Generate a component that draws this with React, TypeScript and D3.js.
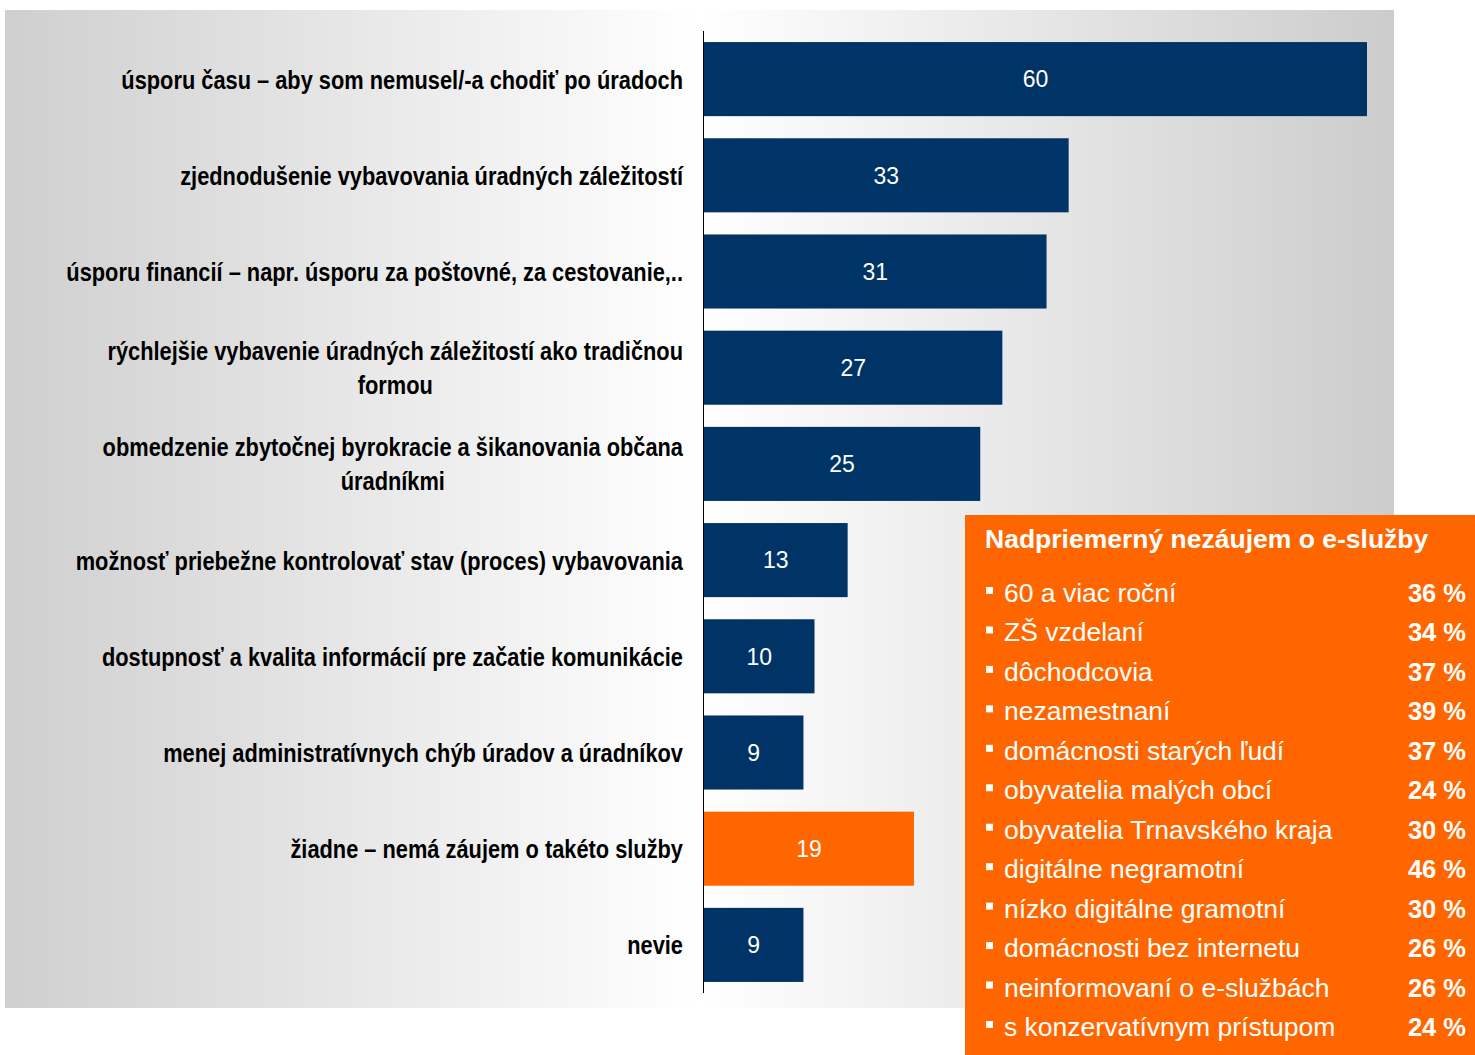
import React, { useEffect, useRef } from "react";
import * as d3 from "d3";

const categories: string[][] = [
  ["úsporu času – aby som nemusel/-a chodiť po úradoch"],
  ["zjednodušenie vybavovania úradných záležitostí"],
  ["úsporu financií – napr. úsporu za poštovné, za cestovanie,.."],
  ["rýchlejšie vybavenie úradných záležitostí ako tradičnou", "formou"],
  ["obmedzenie zbytočnej byrokracie a šikanovania občana", "úradníkmi"],
  ["možnosť priebežne kontrolovať stav (proces) vybavovania"],
  ["dostupnosť a kvalita informácií pre začatie komunikácie"],
  ["menej administratívnych chýb úradov a úradníkov"],
  ["žiadne – nemá záujem o takéto služby"],
  ["nevie"],
];
const values: number[] = [60, 33, 31, 27, 25, 13, 10, 9, 19, 9];
const highlighted: boolean[] = [false, false, false, false, false, false, false, false, true, false];

const boxTitle = "Nadpriemerný nezáujem o e-služby";
const boxItems: string[] = [
  "60 a viac roční",
  "ZŠ vzdelaní",
  "dôchodcovia",
  "nezamestnaní",
  "domácnosti starých ľudí",
  "obyvatelia malých obcí",
  "obyvatelia Trnavského kraja",
  "digitálne negramotní",
  "nízko digitálne gramotní",
  "domácnosti bez internetu",
  "neinformovaní o e-službách",
  "s konzervatívnym prístupom",
];
const boxValues: number[] = [36, 34, 37, 39, 37, 24, 30, 46, 30, 26, 26, 24];

const W = 1475;
const H = 1055;
const NAVY = "#003366";
const ORANGE = "#ff6600";
const SANS = "'Liberation Sans', Arial, Helvetica, sans-serif";

export default function App() {
  const ref = useRef<SVGSVGElement | null>(null);

  useEffect(() => {
    const svg = d3.select(ref.current);
    svg.selectAll("*").remove();

    const defs = svg.append("defs");
    const grad = defs
      .append("linearGradient")
      .attr("id", "bgGrad")
      .attr("x1", "0%")
      .attr("x2", "100%")
      .attr("y1", "0%")
      .attr("y2", "0%");
    grad.append("stop").attr("offset", "0%").attr("stop-color", "#cfcfcf");
    grad.append("stop").attr("offset", "50%").attr("stop-color", "#ffffff");
    grad.append("stop").attr("offset", "100%").attr("stop-color", "#cccccc");

    svg
      .append("rect")
      .attr("x", 5)
      .attr("y", 10)
      .attr("width", 1389)
      .attr("height", 998)
      .attr("fill", "url(#bgGrad)");

    const x0 = 704;
    const x = d3.scaleLinear().domain([0, 60]).range([x0, 1367]);
    const y = d3
      .scaleBand<number>()
      .domain(d3.range(values.length))
      .range([31, 993])
      .paddingInner(0.23)
      .paddingOuter(0.115);

    const g = svg.append("g");

    g.selectAll("rect.bar")
      .data(values)
      .join("rect")
      .attr("class", "bar")
      .attr("x", x(0))
      .attr("y", (_, i) => y(i)!)
      .attr("width", (d) => x(d) - x(0))
      .attr("height", y.bandwidth())
      .attr("fill", (_, i) => (highlighted[i] ? ORANGE : NAVY));

    g.selectAll("text.val")
      .data(values)
      .join("text")
      .attr("class", "val")
      .attr("x", (d) => (x(0) + x(d)) / 2)
      .attr("y", (_, i) => y(i)! + y.bandwidth() / 2)
      .attr("dy", "0.36em")
      .attr("text-anchor", "middle")
      .attr("fill", "#ffffff")
      .attr("font-family", SANS)
      .attr("font-size", 23)
      .text((d) => String(d));

    // axis line
    g.append("line")
      .attr("x1", x0 - 0.5)
      .attr("x2", x0 - 0.5)
      .attr("y1", 31)
      .attr("y2", 993)
      .attr("stroke", "#000")
      .attr("stroke-width", 1);

    // category labels (Arial-Narrow look: horizontally compressed bold sans)
    const labelRight = 683;
    const lineH = 34;
    const squeeze = 0.82;
    categories.forEach((lines, i) => {
      const cy = y(i)! + y.bandwidth() / 2;
      const grp = g
        .append("g")
        .attr("transform", `translate(${labelRight},0) scale(${squeeze},1)`);
      const texts = lines.map((ln, k) =>
        grp
          .append("text")
          .attr("y", cy + (k - (lines.length - 1) / 2) * lineH)
          .attr("dy", "0.36em")
          .attr("font-family", SANS)
          .attr("font-weight", "bold")
          .attr("font-size", 26.6)
          .attr("fill", "#000")
          .attr("text-anchor", "middle")
          .text(ln)
      );
      const widths = texts.map((t) => (t.node() as SVGTextElement).getComputedTextLength());
      const maxW = d3.max(widths) || 0;
      texts.forEach((t) => t.attr("x", -maxW / 2));
    });

    // orange box
    const bx = 965;
    const by = 515;
    svg
      .append("rect")
      .attr("x", bx)
      .attr("y", by)
      .attr("width", W - bx)
      .attr("height", H - by)
      .attr("fill", ORANGE);

    svg
      .append("text")
      .attr("x", 985)
      .attr("y", 548)
      .attr("fill", "#fff")
      .attr("font-family", SANS)
      .attr("font-weight", "bold")
      .attr("font-size", 26.5)
      .text(boxTitle);

    const iy = d3
      .scalePoint<number>()
      .domain(d3.range(boxItems.length))
      .range([602, 1036]);

    const items = svg.append("g");
    boxItems.forEach((item, i) => {
      const yy = iy(i)!;
      items
        .append("rect")
        .attr("x", 986)
        .attr("y", yy - 15)
        .attr("width", 7)
        .attr("height", 7)
        .attr("fill", "#fff");
      items
        .append("text")
        .attr("x", 1004)
        .attr("y", yy)
        .attr("fill", "#fff")
        .attr("font-family", SANS)
        .attr("font-size", 26.5)
        .text(item);
      items
        .append("text")
        .attr("x", 1466)
        .attr("y", yy)
        .attr("text-anchor", "end")
        .attr("fill", "#fff")
        .attr("font-family", SANS)
        .attr("font-weight", "bold")
        .attr("font-size", 25.5)
        .text(`${boxValues[i]} %`);
    });
  }, []);

  return (
    <svg
      ref={ref}
      width={W}
      height={H}
      style={{ position: "absolute", left: 0, top: 0, display: "block" }}
    />
  );
}
